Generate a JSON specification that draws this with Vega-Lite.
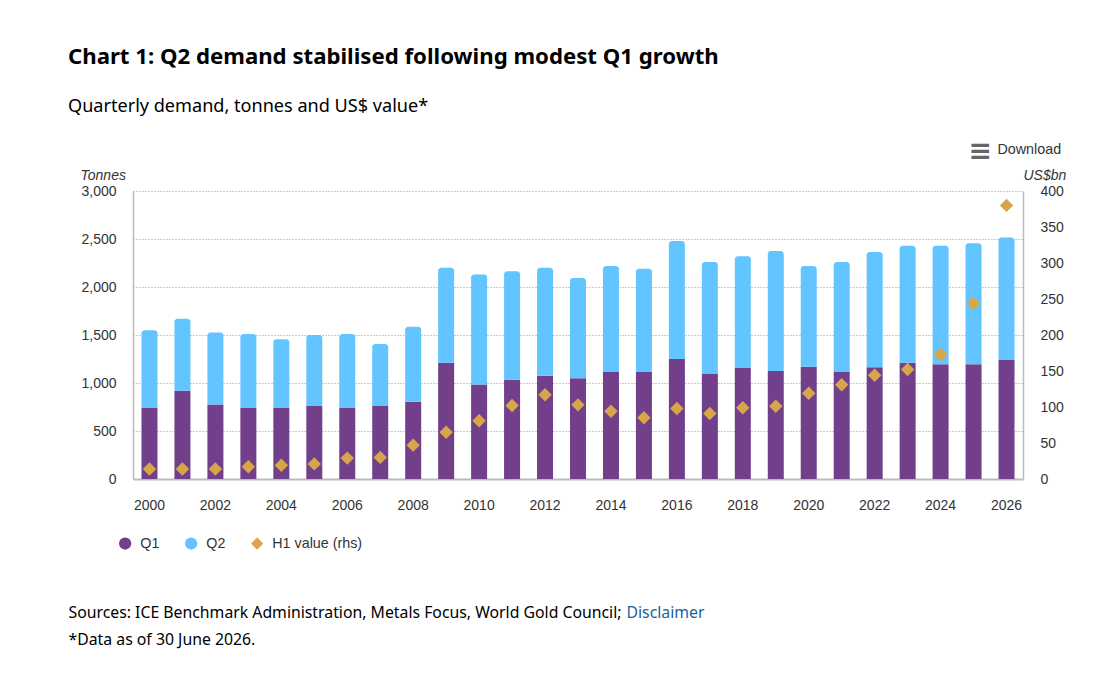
{
  "$schema": "https://vega.github.io/schema/vega-lite/v6.json",
  "width": 890,
  "height": 288,
  "autosize": {"type": "none"},
  "padding": {"left": 133, "top": 191, "right": 86, "bottom": 203},
  "background": "white",
  "title": {
    "text": "Chart 1: Q2 demand stabilised following modest Q1 growth",
    "subtitle": "Quarterly demand, tonnes and US$ value*",
    "anchor": "start",
    "frame": "group",
    "dx": -65,
    "offset": 21,
    "font": "Noto Sans",
    "fontSize": 22.2,
    "fontWeight": "bold",
    "color": "#000000",
    "subtitleFont": "Noto Sans",
    "subtitleFontSize": 18.1,
    "subtitleColor": "#000000",
    "subtitlePadding": 30
  },
  "datasets": {
    "demand": [
      {"year": "2000", "series": "Q1", "tonnes": 740},
      {"year": "2000", "series": "Q2", "tonnes": 810},
      {"year": "2001", "series": "Q1", "tonnes": 920},
      {"year": "2001", "series": "Q2", "tonnes": 750},
      {"year": "2002", "series": "Q1", "tonnes": 775},
      {"year": "2002", "series": "Q2", "tonnes": 750},
      {"year": "2003", "series": "Q1", "tonnes": 740},
      {"year": "2003", "series": "Q2", "tonnes": 770},
      {"year": "2004", "series": "Q1", "tonnes": 740},
      {"year": "2004", "series": "Q2", "tonnes": 715},
      {"year": "2005", "series": "Q1", "tonnes": 760},
      {"year": "2005", "series": "Q2", "tonnes": 740},
      {"year": "2006", "series": "Q1", "tonnes": 740},
      {"year": "2006", "series": "Q2", "tonnes": 770},
      {"year": "2007", "series": "Q1", "tonnes": 760},
      {"year": "2007", "series": "Q2", "tonnes": 645},
      {"year": "2008", "series": "Q1", "tonnes": 805},
      {"year": "2008", "series": "Q2", "tonnes": 780},
      {"year": "2009", "series": "Q1", "tonnes": 1210},
      {"year": "2009", "series": "Q2", "tonnes": 990},
      {"year": "2010", "series": "Q1", "tonnes": 985},
      {"year": "2010", "series": "Q2", "tonnes": 1145},
      {"year": "2011", "series": "Q1", "tonnes": 1035},
      {"year": "2011", "series": "Q2", "tonnes": 1130},
      {"year": "2012", "series": "Q1", "tonnes": 1075},
      {"year": "2012", "series": "Q2", "tonnes": 1125},
      {"year": "2013", "series": "Q1", "tonnes": 1050},
      {"year": "2013", "series": "Q2", "tonnes": 1045},
      {"year": "2014", "series": "Q1", "tonnes": 1115},
      {"year": "2014", "series": "Q2", "tonnes": 1105},
      {"year": "2015", "series": "Q1", "tonnes": 1115},
      {"year": "2015", "series": "Q2", "tonnes": 1075},
      {"year": "2016", "series": "Q1", "tonnes": 1250},
      {"year": "2016", "series": "Q2", "tonnes": 1230},
      {"year": "2017", "series": "Q1", "tonnes": 1100},
      {"year": "2017", "series": "Q2", "tonnes": 1160},
      {"year": "2018", "series": "Q1", "tonnes": 1155},
      {"year": "2018", "series": "Q2", "tonnes": 1165},
      {"year": "2019", "series": "Q1", "tonnes": 1125},
      {"year": "2019", "series": "Q2", "tonnes": 1250},
      {"year": "2020", "series": "Q1", "tonnes": 1170},
      {"year": "2020", "series": "Q2", "tonnes": 1050},
      {"year": "2021", "series": "Q1", "tonnes": 1115},
      {"year": "2021", "series": "Q2", "tonnes": 1145},
      {"year": "2022", "series": "Q1", "tonnes": 1165},
      {"year": "2022", "series": "Q2", "tonnes": 1200},
      {"year": "2023", "series": "Q1", "tonnes": 1210},
      {"year": "2023", "series": "Q2", "tonnes": 1220},
      {"year": "2024", "series": "Q1", "tonnes": 1195},
      {"year": "2024", "series": "Q2", "tonnes": 1235},
      {"year": "2025", "series": "Q1", "tonnes": 1195},
      {"year": "2025", "series": "Q2", "tonnes": 1260},
      {"year": "2026", "series": "Q1", "tonnes": 1240},
      {"year": "2026", "series": "Q2", "tonnes": 1275}
    ],
    "value": [
      {"year": "2000", "series": "H1 value (rhs)", "usbn": 14},
      {"year": "2001", "series": "H1 value (rhs)", "usbn": 14},
      {"year": "2002", "series": "H1 value (rhs)", "usbn": 14},
      {"year": "2003", "series": "H1 value (rhs)", "usbn": 17},
      {"year": "2004", "series": "H1 value (rhs)", "usbn": 19},
      {"year": "2005", "series": "H1 value (rhs)", "usbn": 21},
      {"year": "2006", "series": "H1 value (rhs)", "usbn": 29},
      {"year": "2007", "series": "H1 value (rhs)", "usbn": 30},
      {"year": "2008", "series": "H1 value (rhs)", "usbn": 47},
      {"year": "2009", "series": "H1 value (rhs)", "usbn": 65},
      {"year": "2010", "series": "H1 value (rhs)", "usbn": 81},
      {"year": "2011", "series": "H1 value (rhs)", "usbn": 102},
      {"year": "2012", "series": "H1 value (rhs)", "usbn": 117},
      {"year": "2013", "series": "H1 value (rhs)", "usbn": 103},
      {"year": "2014", "series": "H1 value (rhs)", "usbn": 94},
      {"year": "2015", "series": "H1 value (rhs)", "usbn": 85},
      {"year": "2016", "series": "H1 value (rhs)", "usbn": 98},
      {"year": "2017", "series": "H1 value (rhs)", "usbn": 91},
      {"year": "2018", "series": "H1 value (rhs)", "usbn": 99},
      {"year": "2019", "series": "H1 value (rhs)", "usbn": 101},
      {"year": "2020", "series": "H1 value (rhs)", "usbn": 119},
      {"year": "2021", "series": "H1 value (rhs)", "usbn": 131},
      {"year": "2022", "series": "H1 value (rhs)", "usbn": 144},
      {"year": "2023", "series": "H1 value (rhs)", "usbn": 152},
      {"year": "2024", "series": "H1 value (rhs)", "usbn": 173},
      {"year": "2025", "series": "H1 value (rhs)", "usbn": 244},
      {"year": "2026", "series": "H1 value (rhs)", "usbn": 380}
    ]
  },
  "layer": [
    {
      "data": {"name": "demand"},
      "transform": [
        {"stack": "tonnes", "groupby": ["year"], "sort": [{"field": "series"}], "as": ["y0", "y1"]},
        {"filter": "datum.series === 'Q1'"}
      ],
      "mark": {"type": "bar", "width": 16},
      "encoding": {
        "x": {
          "field": "year",
          "type": "nominal",
          "scale": {"paddingInner": 0.5, "paddingOuter": 0.25},
          "axis": {
            "orient": "bottom",
            "values": ["2000", "2002", "2004", "2006", "2008", "2010", "2012", "2014", "2016", "2018", "2020", "2022", "2024", "2026"],
            "labelAngle": 0,
            "labelPadding": 19,
            "labelFont": "Liberation Sans",
            "labelFontSize": 14,
            "labelColor": "#333333",
            "ticks": false,
            "domainColor": "#bbbbbb",
            "domainWidth": 2,
            "title": ["Sources: ICE Benchmark Administration, Metals Focus, World Gold Council;", "*Data as of 30 June 2026."],
            "titleFont": "Noto Sans",
            "titleFontSize": 15.8,
            "titleFontWeight": "normal",
            "titleColor": "#000000",
            "titleLineHeight": 27,
            "titleAlign": "left",
            "titleAnchor": "start",
            "titleBaseline": "alphabetic",
            "titleX": -65,
            "titleY": 138
          }
        },
        "y": {
          "field": "y1",
          "type": "quantitative",
          "scale": {"domain": [0, 3000]},
          "axis": {
            "orient": "left",
            "values": [0, 500, 1000, 1500, 2000, 2500, 3000],
            "format": ",.0f",
            "labelFont": "Liberation Sans",
            "labelFontSize": 14,
            "labelColor": "#333333",
            "labelPadding": 17,
            "ticks": false,
            "domainColor": "#bbbbbb",
            "domainWidth": 1.5,
            "grid": true,
            "gridColor": "#999999",
            "gridDash": [1, 2],
            "title": "Tonnes",
            "titleFont": "Liberation Sans",
            "titleFontSize": 14,
            "titleFontStyle": "italic",
            "titleFontWeight": "normal",
            "titleColor": "#333333",
            "titleAngle": 0,
            "titleAlign": "left",
            "titleBaseline": "alphabetic",
            "titleX": -53,
            "titleY": -12
          }
        },
        "y2": {"field": "y0"},
        "color": {
          "field": "series",
          "type": "nominal",
          "scale": {"domain": ["Q1", "Q2", "H1 value (rhs)"], "range": ["#723f8a", "#62c5ff", "#d8a64a"]}
        }
      }
    },
    {
      "data": {"name": "demand"},
      "transform": [
        {"stack": "tonnes", "groupby": ["year"], "sort": [{"field": "series"}], "as": ["y0", "y1"]},
        {"filter": "datum.series === 'Q2'"}
      ],
      "mark": {"type": "bar", "width": 16, "cornerRadiusTopLeft": 3, "cornerRadiusTopRight": 3},
      "encoding": {
        "x": {
          "field": "year",
          "type": "nominal",
          "axis": {
            "orient": "bottom",
            "labels": false,
            "ticks": false,
            "domain": false,
            "title": "Disclaimer",
            "titleFont": "Noto Sans",
            "titleFontSize": 15.8,
            "titleFontWeight": "normal",
            "titleColor": "#1b5e9e",
            "titleAlign": "left",
            "titleAnchor": "start",
            "titleBaseline": "alphabetic",
            "titleX": 493,
            "titleY": 138
          }
        },
        "y": {
          "field": "y1",
          "type": "quantitative",
          "scale": {"domain": [0, 3000]},
          "axis": {
            "orient": "left",
            "labels": false,
            "ticks": false,
            "domain": false,
            "grid": false,
            "title": "≡",
            "titleFont": "DejaVu Sans",
            "titleFontSize": 28,
            "titleFontWeight": "bold",
            "titleColor": "#666666",
            "titleAngle": 0,
            "titleAlign": "left",
            "titleBaseline": "alphabetic",
            "titleX": 835,
            "titleY": -32
          }
        },
        "y2": {"field": "y0"},
        "color": {"field": "series", "type": "nominal"}
      }
    },
    {
      "data": {"name": "value"},
      "mark": {"type": "point", "filled": true, "opacity": 1},
      "encoding": {
        "x": {
          "field": "year",
          "type": "nominal",
          "axis": {
            "orient": "top",
            "labels": false,
            "ticks": false,
            "domain": false,
            "title": "Download",
            "titleFont": "Liberation Sans",
            "titleFontSize": 14.3,
            "titleFontWeight": "normal",
            "titleColor": "#333333",
            "titleAlign": "left",
            "titleAnchor": "start",
            "titleBaseline": "alphabetic",
            "titleX": 864,
            "titleY": -38
          }
        },
        "y": {
          "field": "usbn",
          "type": "quantitative",
          "scale": {"domain": [0, 400]},
          "axis": {
            "orient": "right",
            "values": [0, 50, 100, 150, 200, 250, 300, 350, 400],
            "labelFont": "Liberation Sans",
            "labelFontSize": 14,
            "labelColor": "#333333",
            "labelPadding": 17,
            "ticks": false,
            "domainColor": "#bbbbbb",
            "domainWidth": 1.5,
            "grid": false,
            "title": "US$bn",
            "titleFont": "Liberation Sans",
            "titleFontSize": 14,
            "titleFontStyle": "italic",
            "titleFontWeight": "normal",
            "titleColor": "#333333",
            "titleAngle": 0,
            "titleAlign": "left",
            "titleBaseline": "alphabetic",
            "titleX": 0,
            "titleY": -12
          }
        },
        "color": {"field": "series", "type": "nominal"},
        "shape": {
          "field": "series",
          "type": "nominal",
          "scale": {"domain": ["Q1", "Q2", "H1 value (rhs)"], "range": ["circle", "circle", "diamond"]}
        },
        "size": {"value": 180}
      }
    }
  ],
  "resolve": {
    "scale": {"y": "independent"},
    "axis": {"x": "independent", "y": "independent"}
  },
  "config": {
    "view": {"stroke": null},
    "legend": {
      "title": null,
      "orient": "none",
      "legendX": -15,
      "legendY": 345,
      "direction": "horizontal",
      "columns": 3,
      "columnPadding": 22,
      "symbolSize": 150,
      "symbolOpacity": 1,
      "labelFont": "Liberation Sans",
      "labelFontSize": 14.3,
      "labelColor": "#333333",
      "labelOffset": 8
    }
  }
}
